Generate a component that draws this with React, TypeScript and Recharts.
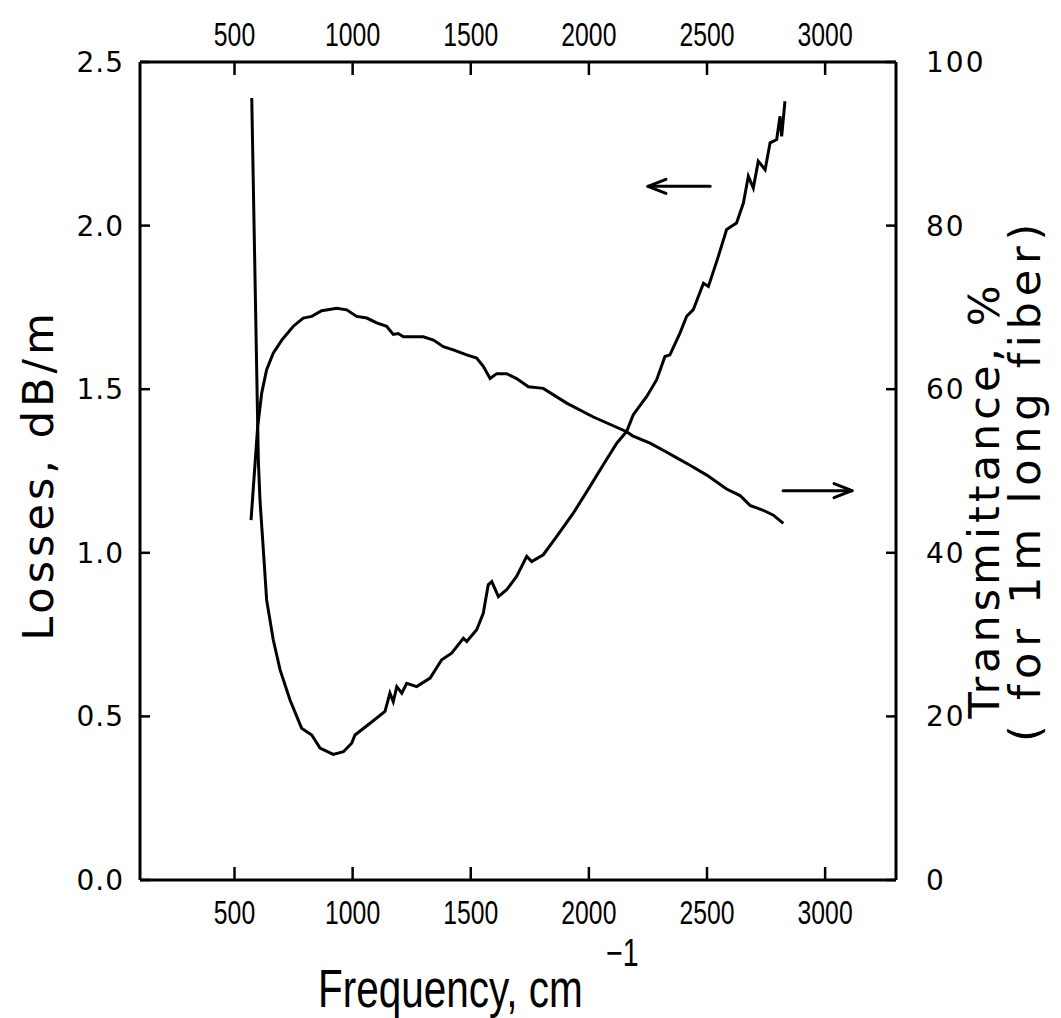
import { ComposedChart, Line, XAxis, YAxis, ReferenceLine, Label } from "recharts";

// Losses curve, dB/m (left axis)
const lossFreq = [
  573, 601, 608, 622, 636, 664, 693, 735, 784, 827, 862, 918, 961, 996, 1010, 1074, 1137, 1158, 1172, 1187,
  1208, 1229, 1271, 1328, 1377, 1419, 1469, 1483, 1525, 1553, 1574, 1589, 1617, 1652, 1694, 1737, 1758, 1807,
  1864, 1934, 2005, 2061, 2118, 2160, 2188, 2245, 2287, 2322, 2343, 2386, 2414, 2442, 2485, 2506, 2548, 2583,
  2625, 2654, 2675, 2696, 2717, 2746, 2767, 2795, 2809, 2816, 2830,
];
const lossValues = [
  2.39, 1.28, 1.16, 1.01, 0.856, 0.734, 0.642, 0.55, 0.464, 0.443, 0.403, 0.384, 0.392, 0.418, 0.443, 0.479, 0.515, 0.571, 0.545, 0.591,
  0.571, 0.601, 0.591, 0.617, 0.673, 0.693, 0.739, 0.729, 0.765, 0.815, 0.902, 0.912, 0.866, 0.887, 0.928, 0.989, 0.973, 0.994,
  1.05, 1.121, 1.203, 1.269, 1.335, 1.371, 1.422, 1.478, 1.529, 1.6, 1.605, 1.672, 1.723, 1.743, 1.824, 1.814, 1.906, 1.988,
  2.008, 2.069, 2.151, 2.115, 2.197, 2.171, 2.253, 2.263, 2.334, 2.273, 2.38,
];

// Transmittance, % (right axis)
const transFreq = [
  570, 598, 615, 636, 664, 700, 749, 791, 827, 869, 933, 975, 1017, 1060, 1102, 1144, 1172, 1193, 1215, 1250,
  1299, 1342, 1384, 1426, 1483, 1525, 1553, 1582, 1610, 1652, 1694, 1744, 1807, 1906, 2019, 2160, 2185, 2259,
  2330, 2372, 2428, 2499, 2583, 2640, 2682, 2738, 2781, 2823,
];
const transValues = [
  44.0, 55.4, 59.5, 62.4, 64.4, 66.0, 67.7, 68.7, 68.9, 69.6, 69.9, 69.7, 68.9, 68.7, 68.1, 67.7, 66.7, 66.8, 66.4, 66.4,
  66.4, 66.0, 65.2, 64.8, 64.2, 63.8, 62.8, 61.3, 61.9, 61.9, 61.3, 60.3, 60.1, 58.3, 56.6, 54.8, 54.3, 53.4,
  52.3, 51.6, 50.7, 49.5, 47.8, 47.0, 45.8, 45.2, 44.6, 43.6,
];

const freqTicks = [500, 1000, 1500, 2000, 2500, 3000];
const lossTicks = [0, 0.5, 1, 1.5, 2, 2.5];
const transTicks = [0, 20, 40, 60, 80, 100];

const lossData = lossFreq.map((f, i) => ({ f, loss: lossValues[i] }));
const transData = transFreq.map((f, i) => ({ f, trans: transValues[i] }));

const INK = "#000";
const NARROW = "'Liberation Sans', Arial, sans-serif";
const WIDE = "'DejaVu Sans', Verdana, sans-serif";

function BottomTick({ x, y, payload }: any) {
  return (
    <g>
      <line x1={x} x2={x} y1={y} y2={y - 13} stroke={INK} strokeWidth={2.5} />
      <text transform={`translate(${x},${y + 44}) scale(0.75,1)`} textAnchor="middle" fontFamily={NARROW} fontSize={33} fill={INK}>
        {payload.value}
      </text>
    </g>
  );
}

function TopTick({ x, y, payload }: any) {
  return (
    <g>
      <line x1={x} x2={x} y1={y} y2={y + 13} stroke={INK} strokeWidth={2.5} />
      <text transform={`translate(${x},${y - 16}) scale(0.75,1)`} textAnchor="middle" fontFamily={NARROW} fontSize={33} fill={INK}>
        {payload.value}
      </text>
    </g>
  );
}

function LeftTick({ x, y, payload }: any) {
  return (
    <g>
      <line x1={x} x2={x + 10} y1={y} y2={y} stroke={INK} strokeWidth={2.5} />
      <text x={x - 16} y={y} dy="0.36em" textAnchor="end" fontFamily={WIDE} fontSize={28} letterSpacing={1} fill={INK}>
        {Number(payload.value).toFixed(1)}
      </text>
    </g>
  );
}

function RightTick({ x, y, payload }: any) {
  return (
    <g>
      <line x1={x - 10} x2={x} y1={y} y2={y} stroke={INK} strokeWidth={2.5} />
      <text x={x + 30} y={y} dy="0.36em" textAnchor="start" fontFamily={WIDE} fontSize={28} letterSpacing={2} fill={INK}>
        {payload.value}
      </text>
    </g>
  );
}

function Arrow(props: any) {
  const { x1, y1, x2, y2 } = props;
  const dir = x2 > x1 ? 1 : -1;
  return (
    <g stroke={INK} strokeWidth={3} fill="none" strokeLinecap="round" strokeLinejoin="round">
      <line x1={x1} y1={y1} x2={x2} y2={y2} />
      <polyline points={`${x2 - dir * 18},${y2 - 7} ${x2},${y2} ${x2 - dir * 18},${y2 + 7}`} />
    </g>
  );
}

export default function App() {
  return (
    <div style={{ width: 1045, height: 1010 }}>
      <ComposedChart width={1045} height={1010} margin={{ top: 0, right: 0, bottom: 0, left: 0 }}>
        <XAxis
          xAxisId="bottom"
          orientation="bottom"
          type="number"
          dataKey="f"
          domain={[100, 3300]}
          ticks={freqTicks}
          interval={0}
          height={138}
          tickSize={0}
          tickMargin={0}
          tickLine={false}
          tick={<BottomTick />}
          axisLine={{ stroke: INK, strokeWidth: 3 }}
          allowDataOverflow
        >
          <Label
            content={({ viewBox }: any) => (
              <g fill={INK}>
                <text transform={`translate(${viewBox.x + 178},${viewBox.y + 127}) scale(0.75,1)`} fontFamily={NARROW} fontSize={54}>
                  Frequency, cm
                </text>
                <text transform={`translate(${viewBox.x + 466},${viewBox.y + 86}) scale(0.75,1)`} fontFamily={NARROW} fontSize={38}>
                  −1
                </text>
              </g>
            )}
          />
        </XAxis>
        <XAxis
          xAxisId="top"
          orientation="top"
          type="number"
          dataKey="f"
          domain={[100, 3300]}
          ticks={freqTicks}
          interval={0}
          height={54}
          tickSize={0}
          tickMargin={0}
          tickLine={false}
          tick={<TopTick />}
          axisLine={{ stroke: INK, strokeWidth: 3 }}
          allowDataOverflow
        />
        <YAxis
          yAxisId="left"
          orientation="left"
          type="number"
          domain={[0, 2.5]}
          ticks={lossTicks}
          interval={0}
          width={132}
          tickSize={0}
          tickMargin={0}
          tickLine={false}
          tick={<LeftTick />}
          axisLine={{ stroke: INK, strokeWidth: 3 }}
          allowDataOverflow
        >
          <Label
            content={({ viewBox }: any) => {
              const cx = viewBox.x + 45;
              const cy = viewBox.y + viewBox.height / 2 + 4;
              return (
                <text transform={`translate(${cx},${cy}) rotate(-90)`} textAnchor="middle" fontFamily={WIDE} fontSize={43} letterSpacing={4} fill={INK}>
                  Losses, dB/m
                </text>
              );
            }}
          />
        </YAxis>
        <YAxis
          yAxisId="right"
          orientation="right"
          type="number"
          domain={[0, 100]}
          ticks={transTicks}
          interval={0}
          width={157}
          tickSize={0}
          tickMargin={0}
          tickLine={false}
          tick={<RightTick />}
          axisLine={{ stroke: INK, strokeWidth: 3 }}
          allowDataOverflow
        >
          <Label
            content={({ viewBox }: any) => {
              const mid = viewBox.y + viewBox.height / 2;
              return (
                <g fill={INK} fontFamily={WIDE} fontSize={43}>
                  <text transform={`translate(${viewBox.x + 103},${mid + 29}) rotate(-90)`} textAnchor="middle" letterSpacing={4}>
                    Transmittance, %
                  </text>
                  <text transform={`translate(${viewBox.x + 144},${mid + 9}) rotate(-90)`} textAnchor="middle" letterSpacing={5.8}>
                    ( for 1m long fiber)
                  </text>
                </g>
              );
            }}
          />
        </YAxis>

        <Line
          xAxisId="bottom"
          yAxisId="left"
          data={lossData}
          dataKey="loss"
          type="linear"
          stroke={INK}
          strokeWidth={3}
          dot={false}
          activeDot={false}
          isAnimationActive={false}
        />
        <Line
          xAxisId="top"
          yAxisId="right"
          data={transData}
          dataKey="trans"
          type="linear"
          stroke={INK}
          strokeWidth={3}
          dot={false}
          activeDot={false}
          isAnimationActive={false}
        />

        <ReferenceLine
          xAxisId="bottom"
          yAxisId="left"
          segment={[{ x: 2513, y: 2.12 }, { x: 2250, y: 2.12 }]}
          shape={<Arrow />}
        />
        <ReferenceLine
          xAxisId="bottom"
          yAxisId="left"
          segment={[{ x: 2822, y: 1.19 }, { x: 3114, y: 1.19 }]}
          shape={<Arrow />}
        />
      </ComposedChart>
    </div>
  );
}
